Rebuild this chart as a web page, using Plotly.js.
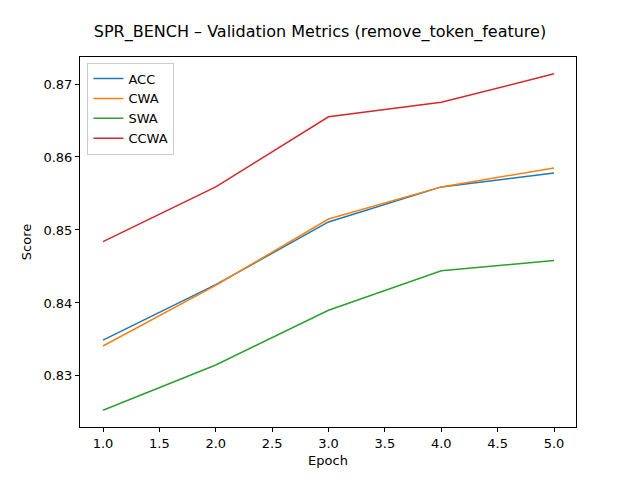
<!DOCTYPE html>
<html><head><script src="https://cdn.plot.ly/plotly-3.0.1.min.js"></script>
<style>body{margin:0}</style></head><body>
<div id="c" style="width:640px;height:480px"></div>
<script>
const epochs=[1,2,3,4,5];
const acc=[0.8349,0.8425,0.8511,0.8559,0.8578];
const cwa=[0.8341,0.8424,0.8515,0.8559,0.8585];
const swa=[0.8253,0.8315,0.8390,0.8444,0.8458];
const ccwa=[0.8484,0.8559,0.8655,0.8675,0.8714];
const names=['ACC','CWA','SWA','CCWA'];
const colors=['#1f77b4','#ff7f0e','#2ca02c','#d62728'];
const data=[acc,cwa,swa,ccwa].map((y,i)=>({x:epochs,y:y,name:names[i],mode:'lines',line:{color:colors[i],width:1.5}}));
const ax={showgrid:false,zeroline:false,showline:true,mirror:true,linecolor:'black',linewidth:1,ticks:'outside',ticklen:4,tickcolor:'black',tickfont:{size:13}};
Plotly.newPlot('c',data,{
width:640,height:480,margin:{l:80,r:64,t:57,b:53},
font:{family:'DejaVu Sans',color:'black'},
paper_bgcolor:'white',plot_bgcolor:'white',
title:{text:'SPR_BENCH – Validation Metrics (remove_token_feature)',font:{size:16},x:0.5,xanchor:'center',y:0.935,yanchor:'middle'},
xaxis:Object.assign({},ax,{range:[0.796,5.195],tickvals:[1,1.5,2,2.5,3,3.5,4,4.5,5],ticktext:['1.0','1.5','2.0','2.5','3.0','3.5','4.0','4.5','5.0'],title:{text:'Epoch',font:{size:13},standoff:6}}),
yaxis:Object.assign({},ax,{range:[0.8230,0.8737],tickvals:[0.83,0.84,0.85,0.86,0.87],ticktext:['0.83','0.84','0.85','0.86','0.87'],title:{text:'Score',font:{size:13},standoff:8}}),
legend:{x:0.015,y:0.985,xanchor:'left',yanchor:'top',bordercolor:'#ccc',borderwidth:1,font:{size:13},tracegroupgap:0},
showlegend:true
},{displayModeBar:false});
</script></body></html>
